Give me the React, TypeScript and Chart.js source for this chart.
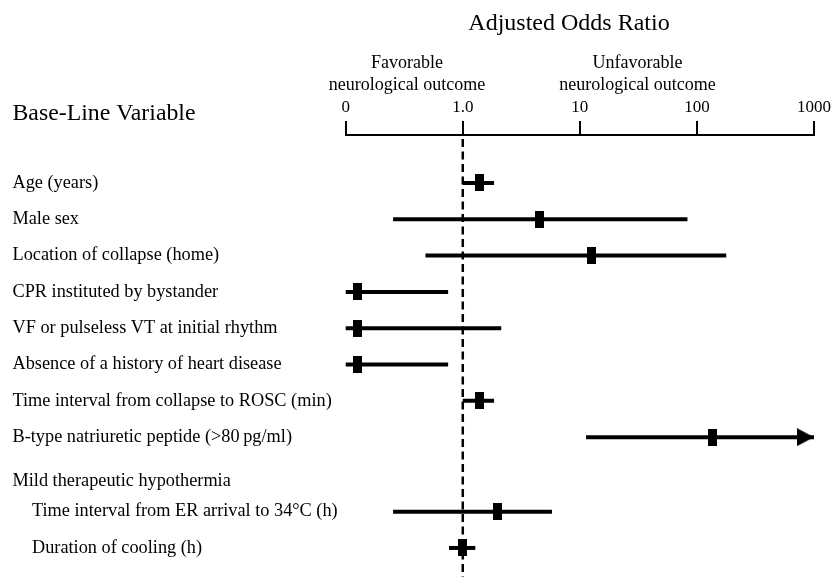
import React, { useEffect, useRef } from "react";
import { Chart, registerables } from "chart.js";

Chart.register(...registerables);

// ---- data ----
const rowLabels = [
  "Age (years)",
  "Male sex",
  "Location of collapse (home)",
  "CPR instituted by bystander",
  "VF or pulseless VT at initial rhythm",
  "Absence of a history of heart disease",
  "Time interval from collapse to ROSC (min)",
  "B-type natriuretic peptide (>80\u2009pg/ml)",
  "Mild therapeutic hypothermia",
  "Time interval from ER arrival to 34°C (h)",
  "Duration of cooling (h)",
];
const rowIndent = [0, 0, 0, 0, 0, 0, 0, 0, 0, 1, 1];
const rowPositions = [0, 1, 2, 3, 4, 5, 6, 7, 8.2, 9.05, 10.05];
const oddsRatios = [1.39, 4.48, 12.5, 0.126, 0.126, 0.126, 1.39, 136, null, 1.97, 1.0];
const lowerCI = [1.0, 0.254, 0.48, 0.1, 0.1, 0.1, 1.0, 11.3, null, 0.254, 0.762];
const upperCI = [1.85, 83, 178, 0.75, 2.13, 0.75, 1.85, 1000, null, 5.78, 1.28];
const tickValues = [0.1, 1, 10, 100, 1000];
const tickLabels = ["0", "1.0", "10", "100", "1000"];
const referenceOR = 1;

const FONT = "'Liberation Serif', 'Times New Roman', serif";
const X_MIN = 0.1;
const X_MAX = 1000;

function makeBox(): HTMLCanvasElement {
  const c = document.createElement("canvas");
  c.width = 9;
  c.height = 17;
  const g = c.getContext("2d")!;
  g.fillStyle = "#000";
  g.fillRect(0, 0, 9, 17);
  return c;
}

function makeArrow(): HTMLCanvasElement {
  const c = document.createElement("canvas");
  c.width = 34;
  c.height = 18;
  const g = c.getContext("2d")!;
  g.fillStyle = "#000";
  g.beginPath();
  g.moveTo(0, 0);
  g.lineTo(17, 9);
  g.lineTo(0, 18);
  g.closePath();
  g.fill();
  return c;
}

const overlayPlugin = {
  id: "overlay",
  beforeDatasetsDraw(chart: any) {
    const { ctx, chartArea, scales } = chart;
    const x = scales.x.getPixelForValue(referenceOR);
    ctx.save();
    ctx.strokeStyle = "#000";
    ctx.lineWidth = 2.5;
    ctx.setLineDash([8, 4.5]);
    ctx.beginPath();
    ctx.moveTo(x, chartArea.top + 4);
    ctx.lineTo(x, chartArea.bottom);
    ctx.stroke();
    ctx.restore();
  },
  afterDraw(chart: any) {
    const { ctx, scales } = chart;
    const y = scales.y;
    ctx.save();
    ctx.fillStyle = "#000";
    ctx.textBaseline = "middle";

    ctx.textAlign = "center";
    ctx.font = `24px ${FONT}`;
    ctx.fillText("Adjusted Odds Ratio", 569, 24);

    ctx.font = `18px ${FONT}`;
    ctx.fillText("Favorable", 407, 63);
    ctx.fillText("neurological outcome", 407, 85);
    ctx.fillText("Unfavorable", 637.5, 63);
    ctx.fillText("neurological outcome", 637.5, 85);

    ctx.textAlign = "left";
    ctx.font = `23.8px ${FONT}`;
    ctx.fillText("Base-Line Variable", 12.5, 114);

    ctx.font = `18.3px ${FONT}`;
    rowLabels.forEach((label, i) => {
      const py = y.getPixelForValue(rowPositions[i]);
      ctx.fillText(label, rowIndent[i] ? 32 : 12.5, py);
    });
    ctx.restore();
  },
};

export default function App() {
  const ref = useRef<HTMLCanvasElement | null>(null);

  useEffect(() => {
    if (!ref.current) return;
    const box = makeBox();
    const arrow = makeArrow();

    const whiskers = rowLabels
      .map((_, i) => i)
      .filter((i) => lowerCI[i] != null && upperCI[i] != null)
      .map((i) => ({
        type: "scatter" as const,
        showLine: true,
        data: [
          { x: lowerCI[i] as number, y: rowPositions[i] },
          { x: Math.min(upperCI[i] as number, X_MAX), y: rowPositions[i] },
        ],
        borderColor: "#000",
        borderWidth: 4,
        borderCapStyle: "butt" as const,
        pointRadius: 0,
        clip: false as const,
      }));

    const estimates = {
      type: "scatter" as const,
      data: rowLabels
        .map((_, i) => i)
        .filter((i) => oddsRatios[i] != null)
        .map((i) => ({ x: oddsRatios[i] as number, y: rowPositions[i] })),
      pointStyle: box,
      pointRadius: 6,
      clip: false as const,
    };

    const arrows = {
      type: "scatter" as const,
      data: rowLabels
        .map((_, i) => i)
        .filter((i) => upperCI[i] != null && (upperCI[i] as number) >= X_MAX)
        .map((i) => ({ x: X_MAX, y: rowPositions[i] })),
      pointStyle: arrow,
      pointRadius: 9,
      clip: false as const,
    };

    const chart = new Chart(ref.current, {
      type: "scatter",
      data: { datasets: [...whiskers, estimates, arrows] as any },
      options: {
        responsive: false,
        animation: false,
        events: [],
        layout: { padding: { left: 345.7, right: 18.3, top: 94.6, bottom: 0 } },
        plugins: {
          legend: { display: false },
          tooltip: { enabled: false },
          title: { display: false },
        },
        scales: {
          x: {
            type: "logarithmic",
            position: "top",
            min: X_MIN,
            max: X_MAX,
            afterBuildTicks: (s: any) => {
              s.ticks = tickValues.map((v) => ({ value: v }));
            },
            ticks: {
              autoSkip: false,
              maxRotation: 0,
              padding: 3,
              color: "#000",
              font: { family: FONT, size: 17 },
              callback: (_v: any, idx: number) => tickLabels[idx],
            },
            grid: {
              drawOnChartArea: false,
              drawTicks: true,
              tickLength: 14,
              color: "#000",
              lineWidth: 2,
            },
            border: { display: true, color: "#000", width: 2 },
          },
          y: {
            type: "linear",
            reverse: true,
            min: -1.32,
            max: 10.85,
            display: false,
          },
        },
      },
      plugins: [overlayPlugin],
    });
    return () => chart.destroy();
  }, []);

  return (
    <div style={{ position: "absolute", left: 0, top: 0, width: 834, height: 587, background: "#fff" }}>
      <canvas ref={ref} width={834} height={587} style={{ width: 834, height: 587, display: "block" }} />
    </div>
  );
}
